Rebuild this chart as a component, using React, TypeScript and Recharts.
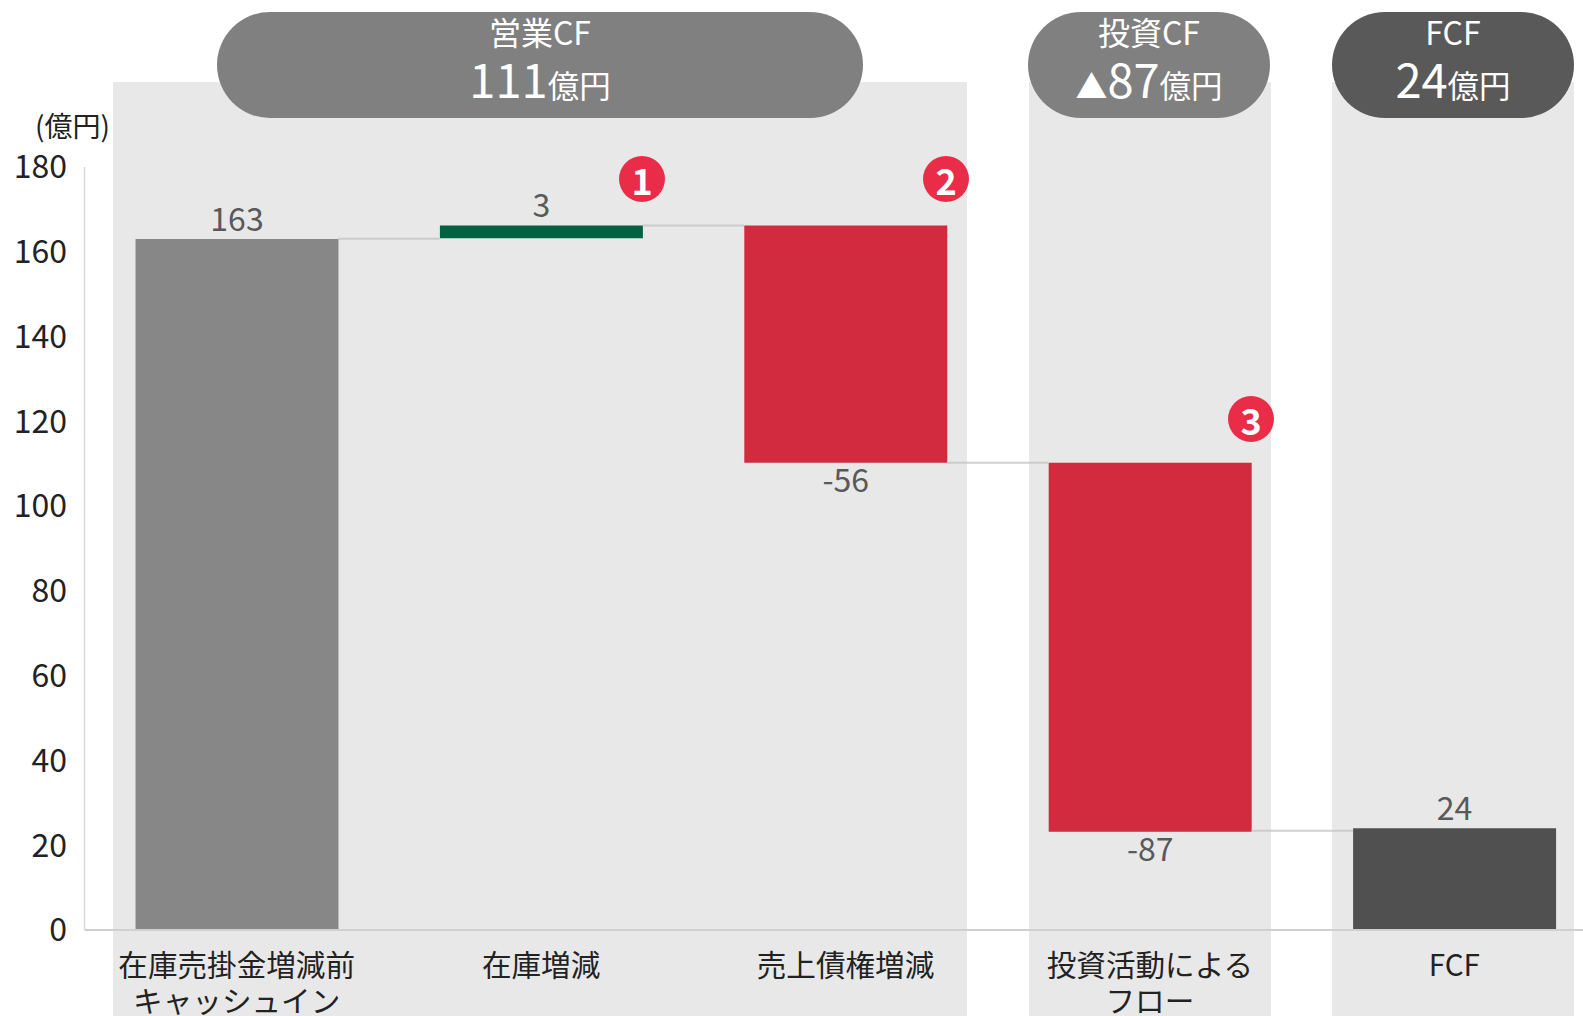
import React from 'react';
import {
  BarChart,
  Bar,
  Cell,
  LabelList,
  ReferenceLine,
  XAxis,
  YAxis
} from 'recharts';

const FONT = '"Noto Sans CJK JP", "Noto Sans", sans-serif';
const BAR_WIDTH = 203;

const categories = ['在庫売掛金増減前|キャッシュイン', '在庫増減', '売上債権増減', '投資活動による|フロー', 'FCF'];
const barStarts = [0, 163.2, 166.2, 110.2, 0];
const barValues = [163, 3, -56, -87, 24];
const barColors = ['#878787', '#006241', '#d22a3f', '#d22a3f', '#505050'];
const yTicks = [0, 20, 40, 60, 80, 100, 120, 140, 160, 180];
const connectorLevels = [163.1, 166.2, 110.2, 23.4];

const bands = [
  { left: 113, width: 854 },
  { left: 1029, width: 242 },
  { left: 1332, width: 242 }
];

const pills = [
  { left: 217, width: 646, fill: '#808080', title: '営業CF', mark: '', amount: '111' },
  { left: 1028, width: 242, fill: '#808080', title: '投資CF', mark: '▲', amount: '87' },
  { left: 1332, width: 242, fill: '#595959', title: 'FCF', mark: '', amount: '24' }
];

const badges = [
  { left: 642, top: 179, text: '1' },
  { left: 946, top: 179, text: '2' },
  { left: 1251, top: 419, text: '3' }
];

const chartData = categories.map((name, i) => ({
  name,
  value: barValues[i],
  range: [barStarts[i], barStarts[i] + barValues[i]]
}));

const CategoryTick = ({ x, y, payload }: any) => {
  const lines = String(payload.value).split('|');
  return (
    <g>
      {lines.map((line, i) => (
        <text key={line} x={x} y={y + 38 + i * 36} textAnchor="middle" fontFamily={FONT} fontSize={29.6} fill="#222222">
          {line}
        </text>
      ))}
    </g>
  );
};

const ValueLabel = (props: any) => {
  const { x, y, width, height, value } = props;
  const below = value < 0;
  const top = Math.min(y, y + height);
  const bottom = Math.max(y, y + height);
  return (
    <text
      x={x + width / 2}
      y={below ? bottom + 29 : top - 8}
      textAnchor="middle"
      fontFamily={FONT}
      fontSize={32}
      fill="#595959"
    >
      {value}
    </text>
  );
};

// the connector only spans the gap between two neighbouring bars
const Connector = ({ x1, y1, x2, y2 }: any) => (
  <line
    x1={x1 + BAR_WIDTH / 2}
    y1={y1}
    x2={x2 - BAR_WIDTH / 2}
    y2={y2}
    stroke="#c4c4c4"
    strokeOpacity={0.8}
    strokeWidth={2}
  />
);

const App = () => (
  <div
    style={{
      position: 'fixed',
      left: 0,
      top: 0,
      width: 1583,
      height: 1016,
      overflow: 'hidden',
      background: '#ffffff',
      fontFamily: FONT
    }}
  >
    {bands.map((b) => (
      <div
        key={b.left}
        style={{ position: 'absolute', left: b.left, top: 82, width: b.width, height: 934, background: '#e8e8e8' }}
      />
    ))}

    <div style={{ position: 'absolute', left: 0, top: 0 }}>
      <BarChart
        width={1620}
        height={1016}
        data={chartData}
        margin={{ top: 167, right: 13.5, bottom: 0, left: 0 }}
        barSize={BAR_WIDTH}
      >
        <XAxis
          dataKey="name"
          height={86}
          interval={0}
          tickLine={false}
          axisLine={{ stroke: '#d0d0d0', strokeWidth: 2 }}
          tick={<CategoryTick />}
        />
        <YAxis
          type="number"
          width={84.5}
          domain={[0, 180]}
          ticks={yTicks}
          interval={0}
          tickLine={false}
          axisLine={{ stroke: '#d9d9d9', strokeWidth: 1.5 }}
          tickMargin={11.5}
          tick={{ fontFamily: FONT, fontSize: 32, fill: '#222222' }}
        />
        {connectorLevels.map((level, i) => (
          <ReferenceLine
            key={level}
            segment={[
              { x: categories[i], y: level },
              { x: categories[i + 1], y: level }
            ]}
            shape={<Connector />}
          />
        ))}
        <Bar dataKey="range" isAnimationActive={false}>
          {chartData.map((d, i) => (
            <Cell key={d.name} fill={barColors[i]} />
          ))}
          <LabelList dataKey="value" content={<ValueLabel />} />
        </Bar>
      </BarChart>
    </div>

    <div style={{ position: 'absolute', left: 35, top: 105, fontSize: 28, lineHeight: '40px', color: '#222222' }}>
      (億円)
    </div>

    {pills.map((p) => (
      <div
        key={p.title}
        style={{
          position: 'absolute',
          left: p.left,
          top: 12,
          width: p.width,
          height: 106,
          borderRadius: 53,
          background: p.fill,
          color: '#ffffff',
          textAlign: 'center'
        }}
      >
        <div style={{ fontSize: 32, lineHeight: '38px' }}>{p.title}</div>
        <div style={{ lineHeight: '56px', whiteSpace: 'nowrap' }}>
          {p.mark && <span style={{ fontSize: 32 }}>{p.mark}</span>}
          <span style={{ fontSize: 47 }}>{p.amount}</span>
          <span style={{ fontSize: 31.5 }}>億円</span>
        </div>
      </div>
    ))}

    {badges.map((b) => (
      <div
        key={b.text}
        style={{
          position: 'absolute',
          left: b.left - 23,
          top: b.top - 23,
          width: 46,
          height: 46,
          borderRadius: 23,
          background: '#e92c48',
          color: '#ffffff',
          fontSize: 36,
          fontWeight: 700,
          lineHeight: '46px',
          textAlign: 'center'
        }}
      >
        {b.text}
      </div>
    ))}
  </div>
);

export default App;
